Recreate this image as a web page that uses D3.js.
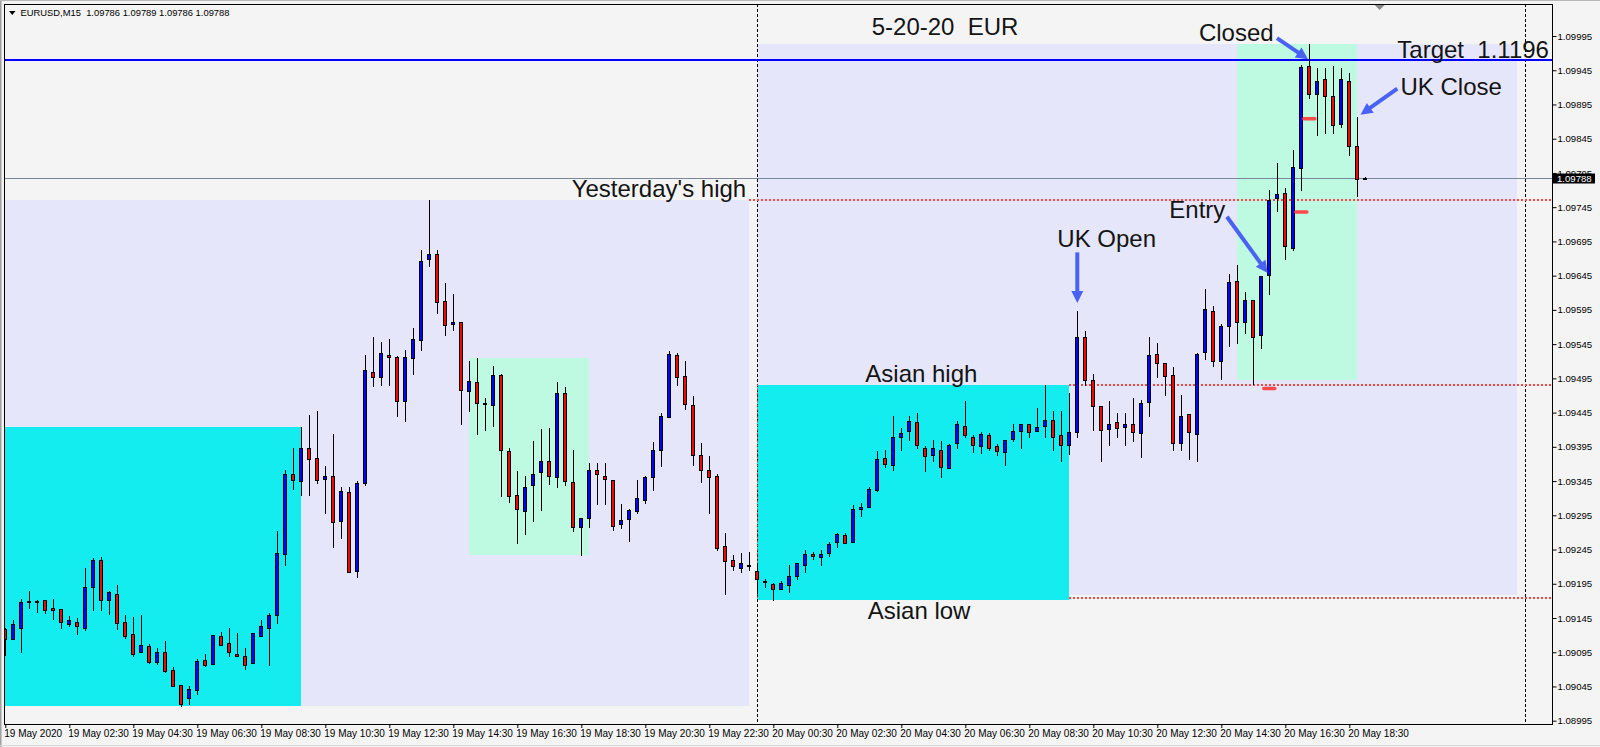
<!DOCTYPE html>
<html><head><meta charset="utf-8">
<script src="https://cdn.jsdelivr.net/npm/d3@7"></script>
<style>
html,body{margin:0;padding:0;background:#f4f4f4;overflow:hidden;}
svg{display:block;}
text{font-family:"Liberation Sans",Arial,sans-serif;white-space:pre;}
</style></head><body>
<svg id="c" width="1600" height="747"></svg>
<script>
// ---------------- data ----------------
const symbolLabel = "EURUSD,M15";
const lastBarOHLC = [1.09786, 1.09789, 1.09786, 1.09788];
const opens = [1.09129,1.09114,1.09130,1.09170,1.09170,1.09171,1.09159,1.09158,1.09136,1.09139,
1.09131,1.09190,1.09229,1.09171,1.09180,1.09139,1.09121,1.09095,1.09104,1.09081,
1.09095,1.09069,1.09047,1.09028,1.09040,1.09083,1.09078,1.09118,1.09108,1.09092,
1.09089,1.09079,1.09118,1.09131,1.09149,1.09238,1.09356,1.09345,1.09393,1.09378,
1.09348,1.09353,1.09286,1.09329,1.09213,1.09342,1.09505,1.09497,1.09529,1.09526,
1.09462,1.09524,1.09551,1.09669,1.09676,1.09608,1.09574,1.09578,1.09476,1.09489,
1.09459,1.09456,1.09500,1.09389,1.09324,1.09301,1.09339,1.09358,1.09375,1.09351,
1.09473,1.09343,1.09278,1.09291,1.09361,1.09353,1.09346,1.09282,1.09289,1.09301,
1.09318,1.09351,1.09391,1.09438,1.09529,1.09498,1.09456,1.09383,1.09361,1.09352,
1.09250,1.09229,1.09218,1.09222,1.09213,1.09199,1.09194,1.09187,1.09193,1.09206,
1.09222,1.09238,1.09234,1.09240,1.09256,1.09266,1.09256,1.09304,1.09307,1.09332,
1.09378,1.09368,1.09410,1.09418,1.09431,1.09394,1.09383,1.09391,1.09364,1.09400,
1.09426,1.09410,1.09396,1.09412,1.09396,1.09387,1.09406,1.09418,1.09428,1.09418,
1.09426,1.09434,1.09412,1.09397,1.09416,1.09556,1.09492,1.09454,1.09421,1.09431,
1.09424,1.09429,1.09415,1.09460,1.09530,1.09518,1.09500,1.09400,1.09443,1.09413,
1.09533,1.09594,1.09521,1.09571,1.09637,1.09578,1.09609,1.09559,1.09646,1.09758,
1.09765,1.09685,1.09802,1.09951,1.09910,1.09932,1.09908,1.09866,1.09930,1.09835,
1.09786];
const highs = [1.09130,1.09142,1.09173,1.09184,1.09171,1.09171,1.09173,1.09158,1.09148,1.09145,
1.09218,1.09232,1.09234,1.09185,1.09193,1.09150,1.09146,1.09149,1.09107,1.09101,
1.09111,1.09074,1.09047,1.09045,1.09085,1.09092,1.09120,1.09124,1.09130,1.09123,
1.09101,1.09123,1.09142,1.09152,1.09272,1.09361,1.09394,1.09424,1.09441,1.09447,
1.09367,1.09413,1.09337,1.09337,1.09345,1.09529,1.09555,1.09548,1.09552,1.09527,
1.09537,1.09568,1.09682,1.09755,1.09682,1.09634,1.09618,1.09578,1.09521,1.09524,
1.09466,1.09513,1.09502,1.09394,1.09359,1.09352,1.09403,1.09421,1.09422,1.09489,
1.09482,1.09391,1.09291,1.09372,1.09371,1.09372,1.09346,1.09311,1.09304,1.09346,
1.09353,1.09402,1.09444,1.09535,1.09532,1.09520,1.09469,1.09400,1.09381,1.09356,
1.09269,1.09237,1.09240,1.09242,1.09225,1.09202,1.09196,1.09199,1.09223,1.09225,
1.09244,1.09242,1.09244,1.09256,1.09269,1.09269,1.09310,1.09313,1.09336,1.09389,
1.09390,1.09440,1.09422,1.09440,1.09445,1.09396,1.09405,1.09403,1.09399,1.09432,
1.09462,1.09412,1.09416,1.09415,1.09399,1.09405,1.09429,1.09429,1.09429,1.09451,
1.09485,1.09448,1.09447,1.09473,1.09594,1.09564,1.09502,1.09454,1.09462,1.09445,
1.09445,1.09467,1.09463,1.09556,1.09546,1.09518,1.09511,1.09470,1.09443,1.09532,
1.09625,1.09600,1.09575,1.09647,1.09660,1.09621,1.09609,1.09644,1.09770,1.09809,
1.09773,1.09828,1.09952,1.09983,1.09948,1.09948,1.09951,1.09948,1.09941,1.09876,
1.09789];
const lows = [1.09091,1.09114,1.09096,1.09160,1.09154,1.09153,1.09143,1.09131,1.09133,1.09122,
1.09127,1.09157,1.09156,1.09151,1.09129,1.09116,1.09089,1.09095,1.09080,1.09078,
1.09066,1.09045,1.09017,1.09020,1.09034,1.09075,1.09078,1.09105,1.09089,1.09089,
1.09070,1.09079,1.09118,1.09077,1.09137,1.09222,1.09334,1.09325,1.09325,1.09342,
1.09299,1.09248,1.09262,1.09212,1.09205,1.09339,1.09484,1.09486,1.09486,1.09440,
1.09432,1.09502,1.09536,1.09659,1.09590,1.09559,1.09565,1.09429,1.09448,1.09413,
1.09419,1.09425,1.09323,1.09314,1.09255,1.09268,1.09287,1.09303,1.09340,1.09337,
1.09339,1.09272,1.09237,1.09278,1.09311,1.09312,1.09273,1.09277,1.09258,1.09299,
1.09313,1.09332,1.09367,1.09438,1.09486,1.09450,1.09368,1.09344,1.09298,1.09244,
1.09180,1.09215,1.09212,1.09215,1.09181,1.09190,1.09172,1.09187,1.09183,1.09202,
1.09212,1.09231,1.09222,1.09235,1.09248,1.09254,1.09256,1.09294,1.09307,1.09330,
1.09365,1.09361,1.09391,1.09405,1.09394,1.09359,1.09375,1.09351,1.09364,1.09394,
1.09409,1.09387,1.09386,1.09391,1.09383,1.09368,1.09403,1.09394,1.09410,1.09418,
1.09410,1.09391,1.09374,1.09384,1.09410,1.09486,1.09419,1.09374,1.09397,1.09409,
1.09397,1.09403,1.09380,1.09440,1.09497,1.09470,1.09391,1.09391,1.09377,1.09375,
1.09523,1.09513,1.09494,1.09542,1.09546,1.09561,1.09487,1.09540,1.09618,1.09739,
1.09669,1.09682,1.09770,1.09904,1.09850,1.09853,1.09853,1.09862,1.09821,1.09761,
1.09786];
const closes = [1.09114,1.09136,1.09168,1.09168,1.09168,1.09157,1.09156,1.09139,1.09142,1.09133,
1.09190,1.09229,1.09172,1.09183,1.09137,1.09119,1.09092,1.09105,1.09081,1.09095,
1.09067,1.09045,1.09020,1.09042,1.09082,1.09077,1.09120,1.09105,1.09095,1.09090,
1.09076,1.09123,1.09133,1.09149,1.09240,1.09356,1.09346,1.09393,1.09377,1.09346,
1.09353,1.09285,1.09330,1.09212,1.09342,1.09507,1.09497,1.09532,1.09526,1.09462,
1.09526,1.09552,1.09667,1.09676,1.09606,1.09573,1.09578,1.09478,1.09491,1.09459,
1.09457,1.09500,1.09390,1.09323,1.09304,1.09337,1.09356,1.09375,1.09352,1.09473,
1.09345,1.09278,1.09291,1.09361,1.09355,1.09348,1.09280,1.09288,1.09302,1.09320,
1.09351,1.09391,1.09440,1.09530,1.09497,1.09457,1.09383,1.09361,1.09351,1.09247,
1.09228,1.09221,1.09225,1.09221,1.09202,1.09197,1.09187,1.09196,1.09207,1.09225,
1.09238,1.09235,1.09238,1.09253,1.09267,1.09254,1.09304,1.09307,1.09334,1.09377,
1.09370,1.09410,1.09415,1.09432,1.09397,1.09381,1.09393,1.09365,1.09397,1.09429,
1.09412,1.09397,1.09413,1.09394,1.09389,1.09405,1.09418,1.09429,1.09416,1.09424,
1.09434,1.09410,1.09397,1.09416,1.09555,1.09492,1.09454,1.09419,1.09429,1.09422,
1.09429,1.09416,1.09459,1.09529,1.09518,1.09498,1.09400,1.09440,1.09416,1.09530,
1.09597,1.09521,1.09571,1.09635,1.09578,1.09609,1.09556,1.09644,1.09755,1.09764,
1.09688,1.09803,1.09949,1.09910,1.09930,1.09907,1.09865,1.09932,1.09834,1.09786,
1.09788];

const priceTicks = [1.09995,1.09945,1.09895,1.09845,1.09795,1.09745,1.09695,1.09645,1.09595,1.09545,
1.09495,1.09445,1.09395,1.09345,1.09295,1.09245,1.09195,1.09145,1.09095,1.09045,1.08995];
const timeTickBars = [0,8,16,24,32,40,48,56,64,72,80,88,96,104,112,120,128,136,144,152,160,168];
const timeTickLabels = ["19 May 2020","19 May 02:30","19 May 04:30","19 May 06:30","19 May 08:30",
"19 May 10:30","19 May 12:30","19 May 14:30","19 May 16:30","19 May 18:30","19 May 20:30",
"19 May 22:30","20 May 00:30","20 May 02:30","20 May 04:30","20 May 06:30","20 May 08:30",
"20 May 10:30","20 May 12:30","20 May 14:30","20 May 16:30","20 May 18:30"];

const currentPrice = 1.09788;
const targetPrice = 1.0996;
const separatorBars = [94, 190];
const shiftMarkerBar = 171.8;

// rectangles (range / asian session / trade window)
const boxKinds   = ["range","asia","session","range","asia","session"];
const boxStart   = [-3, -3, 58, 94, 94, 154];
const boxEnd     = [93, 37, 73, 189, 133, 169];
const boxTop     = [1.09755, 1.09424, 1.09525, 1.09983, 1.09485, 1.09983];
const boxBottom  = [1.09017, 1.09017, 1.09237, 1.09179, 1.09172, 1.09493];

// dotted levels (yesterday's high, asian high, asian low)
const levelPrice = [1.09755, 1.09486, 1.09174];
const levelStart = [93, 133, 133];

// trade markers
const markerBar   = [163, 162, 158];
const markerPrice = [1.09874, 1.09738, 1.09480];

// text annotations
const noteText  = ["5-20-20  EUR","Closed","Target  1.1196","UK Close","Yesterday's high","Entry","UK Open","Asian high","Asian low"];
const noteBar   = [108.3, 149.2, 174.0, 174.4, 70.8, 145.5, 131.5, 107.5, 107.8];
const notePrice = [1.09997, 1.09987, 1.09963, 1.09909, 1.09760, 1.09729, 1.09687, 1.09490, 1.09144];

// arrows
const arrowFromBar   = [158.96, 174.0, 152.7, 134.0];
const arrowFromPrice = [1.09992, 1.09918, 1.09731, 1.09679];
const arrowToBar     = [162.84, 169.4, 157.8, 134.0];
const arrowToPrice   = [1.09961, 1.09880, 1.09649, 1.09605];

// ---------------- drawing ----------------
const W = 1600, H = 747;
const frame = {l:4, t:4, r:1553, b:724};
const svg = d3.select("#c");
const x = d3.scaleLinear().domain([0,170]).range([5.3, 1365.3]);
const y = d3.scaleLinear().domain([1.08995, 1.09995]).range([720.7, 36]);

svg.append("rect").attr("width",W).attr("height",H).attr("fill","#f4f4f4");
// window border
svg.append("line").attr("x1",0.5).attr("x2",0.5).attr("y1",0).attr("y2",H).attr("stroke","#a0a0a0");
svg.append("line").attr("x1",1.5).attr("x2",1.5).attr("y1",0).attr("y2",H).attr("stroke","#c8c8c8");
svg.append("line").attr("x1",0).attr("x2",W).attr("y1",0.5).attr("y2",0.5).attr("stroke","#b8b8b8");
svg.append("line").attr("x1",0).attr("x2",W).attr("y1",H-1.5).attr("y2",H-1.5).attr("stroke","#d8d8d8");

svg.append("defs").append("clipPath").attr("id","plot")
  .append("rect").attr("x",frame.l).attr("y",frame.t).attr("width",frame.r-frame.l).attr("height",frame.b-frame.t);
const g = svg.append("g").attr("clip-path","url(#plot)");

const boxColor = {range:"#e6e6fa", asia:"#14edf0", session:"#bef9e1"};
const order = [0,3,1,4,2,5];
order.forEach(i=>{
  const x0 = Math.round(x(boxStart[i])), x1 = Math.round(x(boxEnd[i]));
  const y0 = Math.round(y(boxTop[i])), y1 = Math.round(y(boxBottom[i]));
  g.append("rect").attr("x",x0).attr("y",y0).attr("width",x1-x0).attr("height",y1-y0)
   .attr("fill",boxColor[boxKinds[i]]);
});

// separators
separatorBars.forEach(b=>{
  const xx = Math.round(x(b))+0.5;
  g.append("line").attr("x1",xx).attr("x2",xx).attr("y1",frame.t).attr("y2",frame.b)
   .attr("stroke","#000").attr("stroke-width",1).attr("stroke-dasharray","3,2");
});
// red dotted vertical at asian box start
g.append("line").attr("x1",Math.round(x(94))+0.5).attr("x2",Math.round(x(94))+0.5)
  .attr("y1",y(levelPrice[1])).attr("y2",y(levelPrice[2]))
  .attr("stroke","#ff4040").attr("stroke-width",1).attr("stroke-dasharray","2,2");

// target line
g.append("line").attr("x1",frame.l).attr("x2",frame.r).attr("y1",Math.round(y(targetPrice))).attr("y2",Math.round(y(targetPrice)))
  .attr("stroke","#0000ff").attr("stroke-width",2);
// current price line
const cy = Math.round(y(currentPrice))+0.5;
g.append("line").attr("x1",frame.l).attr("x2",frame.r).attr("y1",cy).attr("y2",cy)
  .attr("stroke","#778899").attr("stroke-width",1);
// dotted levels
levelPrice.forEach((p,i)=>{
  const yy = Math.round(y(p));
  g.append("line").attr("x1",Math.round(x(levelStart[i]))).attr("x2",frame.r).attr("y1",yy).attr("y2",yy)
   .attr("stroke","#ff4444").attr("stroke-width",2).attr("stroke-dasharray","2,2");
});

// candles
const bars = d3.range(opens.length).map(i=>({i,o:opens[i],h:highs[i],l:lows[i],c:closes[i]}));
const cg = g.append("g").attr("shape-rendering","crispEdges");
cg.selectAll("line.w").data(bars).join("line").attr("class","w")
  .attr("x1",d=>Math.round(x(d.i))+0.5).attr("x2",d=>Math.round(x(d.i))+0.5)
  .attr("y1",d=>Math.round(y(d.h))).attr("y2",d=>Math.round(y(d.l))+1)
  .attr("stroke","#000").attr("stroke-width",1);
cg.selectAll("rect.b").data(bars).join("rect").attr("class","b")
  .attr("x",d=>Math.round(x(d.i))-1.5).attr("width",3)
  .attr("y",d=>Math.round(y(Math.max(d.o,d.c)))+0.5)
  .attr("height",d=>Math.max(0,Math.round(y(Math.min(d.o,d.c)))-Math.round(y(Math.max(d.o,d.c)))))
  .attr("fill",d=>d.c>d.o?"#0000ff":(d.c<d.o?"#ff0000":"#000"))
  .attr("stroke","#000").attr("stroke-width",1);

// trade markers
markerBar.forEach((b,i)=>{
  const xx = x(b), yy = y(markerPrice[i]);
  g.append("line").attr("x1",xx-5.5).attr("x2",xx+5.5).attr("y1",yy).attr("y2",yy)
   .attr("stroke","#ff4a4a").attr("stroke-width",3.5).attr("stroke-linecap","round");
});

// arrows
const arrowColor = "#4a62f4";
arrowFromBar.forEach((b,i)=>{
  const x1 = x(b), y1 = y(arrowFromPrice[i]), x2 = x(arrowToBar[i]), y2 = y(arrowToPrice[i]);
  const dx = x2-x1, dy = y2-y1, len = Math.hypot(dx,dy), ux = dx/len, uy = dy/len;
  const hl = 12, hw = 6;
  const bx = x2-ux*hl, by = y2-uy*hl;
  g.append("line").attr("x1",x1).attr("y1",y1).attr("x2",bx+ux*2).attr("y2",by+uy*2)
   .attr("stroke",arrowColor).attr("stroke-width",4);
  g.append("path").attr("d",`M${x2},${y2}L${bx-uy*hw},${by+ux*hw}L${bx+uy*hw},${by-ux*hw}Z`)
   .attr("fill",arrowColor);
});

// notes
noteText.forEach((t,i)=>{
  g.append("text").attr("x",x(noteBar[i])).attr("y",y(notePrice[i])).text(t)
   .attr("font-size",24).attr("fill","#141414");
});

// frame
svg.append("rect").attr("x",frame.l+0.5).attr("y",frame.t+0.5).attr("width",frame.r-frame.l-1).attr("height",frame.b-frame.t)
  .attr("fill","none").attr("stroke","#000").attr("stroke-width",1);

// chart shift marker
const sx = x(shiftMarkerBar);
svg.append("path").attr("d",`M${sx-5},${frame.t+1}L${sx+5},${frame.t+1}L${sx},${frame.t+6}Z`).attr("fill","#8a8a8a");

// price axis
const ya = svg.append("g").attr("transform",`translate(${frame.r-0.5},0)`)
  .call(d3.axisRight(y).tickValues(priceTicks).tickFormat(d3.format(".5f")).tickSize(4).tickPadding(1));
ya.select(".domain").remove();
ya.selectAll("line").attr("stroke","#000");
ya.selectAll("text").attr("font-size",9.6).attr("fill","#000").attr("font-family","Liberation Sans, Arial, sans-serif");

// time axis
const xa = svg.append("g").attr("transform",`translate(0,${frame.b})`)
  .call(d3.axisBottom(x).tickValues(timeTickBars).tickFormat((d,i)=>timeTickLabels[i]).tickSize(4).tickPadding(2));
xa.select(".domain").remove();
xa.selectAll("line").attr("stroke","#000");
xa.selectAll("text").attr("text-anchor","start").attr("dx",-1.5).attr("font-size",10)
  .attr("fill","#000").attr("font-family","Liberation Sans, Arial, sans-serif");

// current price box
svg.append("rect").attr("x",frame.r).attr("y",Math.round(y(currentPrice))-4.5).attr("width",42).attr("height",10).attr("fill","#000");
svg.append("text").attr("x",frame.r+4).attr("y",Math.round(y(currentPrice))+4)
  .attr("font-size",9.6).attr("fill","#fff").text(d3.format(".5f")(currentPrice));

// header
svg.append("path").attr("d","M9,11L15.5,11L12.25,15Z").attr("fill","#000");
svg.append("text").attr("x",20.5).attr("y",16).attr("font-size",9.4).attr("fill","#000")
  .text(symbolLabel + "  " + lastBarOHLC.map(d3.format(".5f")).join(" "));
</script>
</body></html>
